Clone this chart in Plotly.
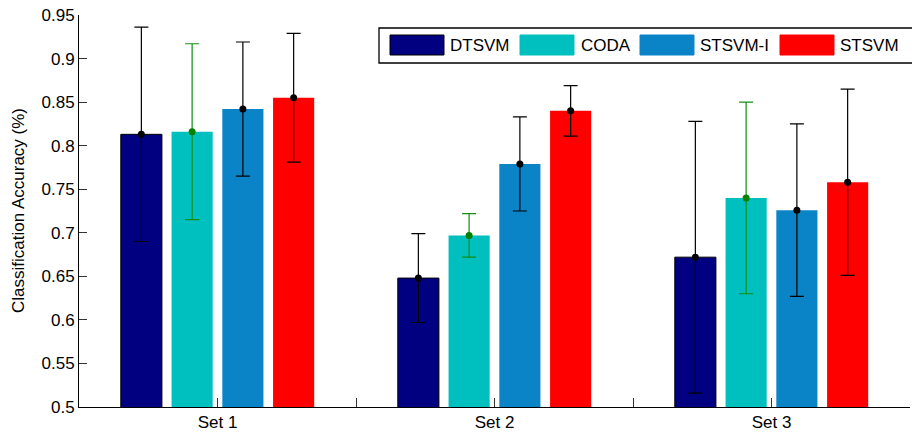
import plotly.graph_objects as go

# ---- data ----
sets = ["Set 1", "Set 2", "Set 3"]
methods = ["DTSVM", "CODA", "STSVM-I", "STSVM"]
means = {
    "DTSVM":   [0.813, 0.648, 0.672],
    "CODA":    [0.816, 0.697, 0.740],
    "STSVM-I": [0.842, 0.779, 0.726],
    "STSVM":   [0.855, 0.840, 0.758],
}
errs = {
    "DTSVM":   [0.123, 0.051, 0.156],
    "CODA":    [0.101, 0.025, 0.110],
    "STSVM-I": [0.077, 0.054, 0.099],
    "STSVM":   [0.074, 0.029, 0.107],
}
ytick_vals = [0.5, 0.55, 0.6, 0.65, 0.7, 0.75, 0.8, 0.85, 0.9, 0.95]
ytick_text = ["0.5", "0.55", "0.6", "0.65", "0.7", "0.75", "0.8", "0.85", "0.9", "0.95"]

# ---- styles ----
bar_colors = {"DTSVM": "#000080", "CODA": "#00BFBF", "STSVM-I": "#0A84C6", "STSVM": "#FF0000"}
edge = {"DTSVM": ("#000000", 1), "CODA": ("#00BFBF", 0), "STSVM-I": ("#0A84C6", 0), "STSVM": ("#FF0000", 0)}
err_colors = {"DTSVM": "#000000", "CODA": "#108F10", "STSVM-I": "#000000", "STSVM": "#000000"}
dot_colors = {"DTSVM": "#000000", "CODA": "#008000", "STSVM-I": "#000000", "STSVM": "#000000"}
FONT = "Liberation Sans, Arial, Helvetica, sans-serif"
FS = 17

W, H = 912, 433
ML, MR, MT, MB = 79, 2, 15, 26
PW, PH = W - ML - MR, H - MT - MB


def px_x(p):
    return (p - ML) / PW


def px_y(p):
    return (H - MB - p) / PH


fig = go.Figure()
for m in methods:
    fig.add_trace(go.Bar(
        x=sets, y=means[m], name=m, base=0,
        marker=dict(color=bar_colors[m], line=dict(color=edge[m][0], width=edge[m][1])),
        error_y=dict(type="data", array=errs[m], color=err_colors[m], thickness=1.2, width=7),
        showlegend=False,
    ))
for m in methods:
    fig.add_trace(go.Scatter(
        x=sets, y=means[m], mode="markers",
        marker=dict(color=dot_colors[m], size=7),
        showlegend=False, hoverinfo="skip",
    ))

# transparent trace that carries the secondary (centre) tick axis
fig.add_trace(go.Scatter(x=sets, y=means["DTSVM"], xaxis="x2", mode="markers",
                         marker=dict(opacity=0), showlegend=False, hoverinfo="skip"))

# ---- custom legend (wide swatches like the original) ----
shapes = [dict(type="rect", xref="paper", yref="paper",
               x0=px_x(379), x1=px_x(925), y0=px_y(63), y1=px_y(28),
               line=dict(color="black", width=1.3), fillcolor="white", layer="above")]
annotations = []
sw_left = [390, 520, 640, 780]
txt_left = [448, 579, 698, 838]
for m, sx, tx in zip(methods, sw_left, txt_left):
    shapes.append(dict(type="rect", xref="paper", yref="paper",
                       x0=px_x(sx), x1=px_x(sx + 54), y0=px_y(55), y1=px_y(35),
                       line=dict(color="black" if m == "DTSVM" else bar_colors[m], width=1),
                       fillcolor=bar_colors[m], layer="above"))
    annotations.append(dict(xref="paper", yref="paper", x=px_x(tx), y=px_y(45.5),
                            text=m, showarrow=False, xanchor="left", yanchor="middle",
                            font=dict(family=FONT, size=FS, color="black")))

# y-axis title as a rotated annotation positioned like the original
annotations.append(dict(xref="paper", yref="paper", x=px_x(18), y=0.5,
                        text="Classification Accuracy (%)", textangle=-90,
                        showarrow=False, xanchor="center", yanchor="middle",
                        font=dict(family=FONT, size=FS, color="black")))

fig.update_layout(
    width=W, height=H,
    margin=dict(l=ML, r=MR, t=MT, b=MB, autoexpand=False),
    paper_bgcolor="white", plot_bgcolor="white",
    barmode="group", bargap=0.267, bargroupgap=0.19,
    scattermode="group", scattergap=0.267,
    font=dict(family=FONT, size=FS, color="black"),
    xaxis=dict(type="category", categoryarray=sets, range=[-0.5, 2.5], automargin=False,
               showline=True, linecolor="black", linewidth=1,
               ticks="inside", ticklen=9, tickcolor="#333333", tickwidth=1,
               tickson="boundaries", showgrid=False, zeroline=False,
               ticklabelstandoff=0,
               tickfont=dict(family=FONT, size=FS)),
    xaxis2=dict(type="category", categoryarray=sets, range=[-0.5, 2.5], overlaying="x",
                anchor="y", side="bottom", showline=False, ticks="inside", ticklen=9,
                tickcolor="#333333", tickwidth=1, showticklabels=False, showgrid=False,
                zeroline=False, automargin=False),
    yaxis=dict(range=[0.5, 0.95], tickvals=ytick_vals, ticktext=ytick_text, automargin=False,
               showline=True, linecolor="black", linewidth=1,
               ticks="inside", ticklen=8, tickcolor="#333333", tickwidth=1,
               showgrid=False, zeroline=False,
               tickfont=dict(family=FONT, size=FS)),
    shapes=shapes, annotations=annotations,
)

fig.write_html("out.html", config={"displayModeBar": False},
               post_script="document.body.style.margin='0px';document.body.style.overflow='hidden';")
